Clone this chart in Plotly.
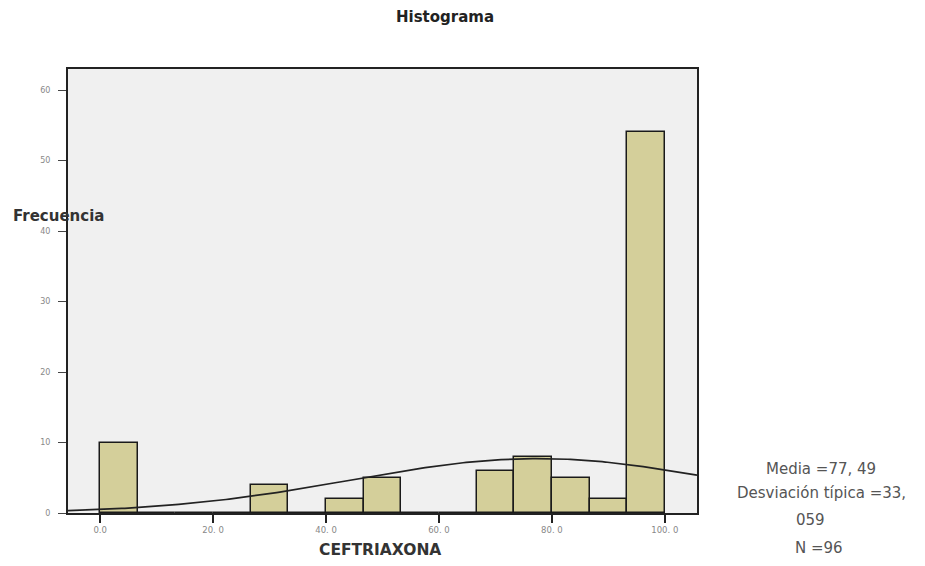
import numpy as np
import plotly.graph_objects as go

# Data
bin_width = 100 / 15
bin_starts = [i * bin_width for i in range(15)]
counts = [10, 0, 0, 0, 4, 0, 2, 5, 0, 0, 6, 8, 5, 2, 54]
media = 77.49
desv = 33.059
n_total = 96
x_ticks = [0, 20, 40, 60, 80, 100]
y_ticks = [0, 10, 20, 30, 40, 50, 60]

# page body margin offset (default 8px)
OFF = 8
W, H = 925 - 2 * OFF, 566 - 2 * OFF
# target plot box in window pixels
L, R, T, B = 68, 697, 69, 513
l, r, t, b = L - OFF, R - OFF, T - OFF, B - OFF
xr = [-5.7, 105.7]
yr = [0, 63]

def px(xw):
    return (xw - L) / (R - L)

def py(yw):
    return (B - yw) / (B - T)

centers = [s + bin_width / 2 for s in bin_starts]

fig = go.Figure()
fig.add_trace(go.Bar(
    x=centers, y=counts, width=[bin_width] * len(counts),
    marker=dict(color="#d4cf9a", line=dict(color="#1a1a1a", width=1.5)),
    hoverinfo="skip", showlegend=False,
))

xs = np.linspace(xr[0], xr[1], 200)
ys = n_total * bin_width / (desv * np.sqrt(2 * np.pi)) * np.exp(-0.5 * ((xs - media) / desv) ** 2)
fig.add_trace(go.Scatter(
    x=xs, y=ys, mode="lines", line=dict(color="#222", width=1.7),
    hoverinfo="skip", showlegend=False,
))

fig.update_layout(
    width=W, height=H,
    margin=dict(l=l, r=W - r, t=t, b=H - b, pad=0),
    paper_bgcolor="white", plot_bgcolor="#f0f0f0",
    font=dict(family="DejaVu Sans, Liberation Sans, sans-serif", color="#333"),
    bargap=0,
    xaxis=dict(
        range=xr, tickvals=x_ticks,
        ticktext=[f"{v:.1f}".replace(".", ". ") if v else "0.0" for v in x_ticks],
        ticks="outside", ticklen=8, tickwidth=1.5, tickcolor="#222",
        tickfont=dict(size=8.5, color="#888"),
        showline=True, linecolor="#222", linewidth=2, mirror=True,
        showgrid=False, zeroline=False,
    ),
    yaxis=dict(
        range=yr, tickvals=y_ticks, ticktext=[str(v) for v in y_ticks],
        ticks="outside", ticklen=8, tickwidth=1.2, tickcolor="#444",
        ticklabelstandoff=6,
        tickfont=dict(size=8, color="#888"),
        showline=True, linecolor="#222", linewidth=2, mirror=True,
        showgrid=False, zeroline=False,
    ),
)

fig.add_annotation(text="<b>Histograma</b>", xref="paper", yref="paper",
                   x=px(445), y=py(17), showarrow=False,
                   font=dict(size=15, color="#222"),
                   xanchor="center", yanchor="middle")
fig.add_annotation(text="<b>Frecuencia</b>", xref="paper", yref="paper",
                   x=px(11), y=py(216), showarrow=False,
                   font=dict(size=15, color="#333"),
                   xanchor="left", yanchor="middle")
fig.add_annotation(text="<b>CEFTRIAXONA</b>", xref="paper", yref="paper",
                   x=px(380), y=py(550), showarrow=False,
                   font=dict(size=15.5, color="#333"),
                   xanchor="center", yanchor="middle")

stats_lines = [
    (f"Media ={media:.2f}".replace(".", ", "), 821, 469),
    ("Desviación típica =33,", 821, 493),
    ("059", 810, 520),
    (f"N ={n_total}", 819, 548),
]
for txt, xx, yy in stats_lines:
    fig.add_annotation(text=txt, xref="paper", yref="paper",
                       x=px(xx), y=py(yy), showarrow=False,
                       font=dict(size=15, color="#555"),
                       xanchor="center", yanchor="middle")

fig.write_html("out.html")
